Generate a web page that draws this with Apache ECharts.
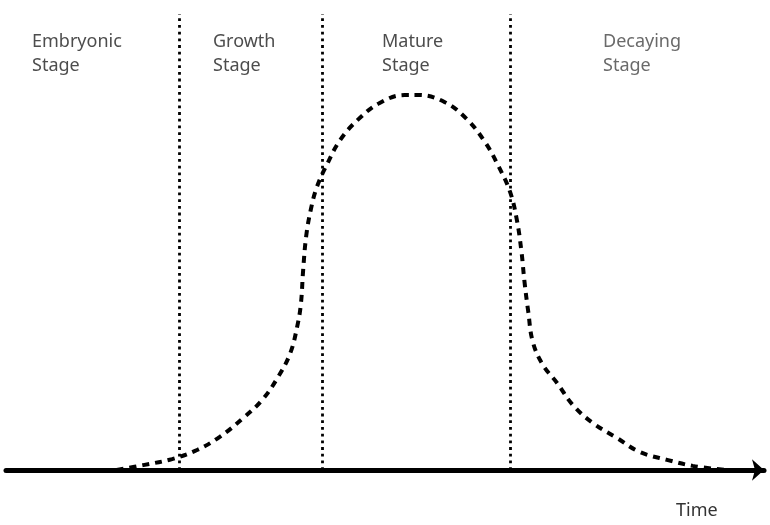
<!DOCTYPE html>
<html>
<head>
<meta charset="utf-8">
<script src="https://cdn.jsdelivr.net/npm/echarts@6/dist/echarts.min.js"></script>
<style>html,body{margin:0;padding:0;background:#fff}#c{width:770px;height:525px}</style>
</head>
<body>
<div id="c"></div>
<script>
// Product life-cycle curve: [time, level]
const timeValues = [14.6,18.1,21.9,25.2,28.2,31.3,33.8,35.9,37.5,38.4,38.9,39.2,39.6,40.2,41.0,42.3,44.1,46.4,49.3,52.6,54.4,57.9,60.8,63.2,64.9,66.5,67.4,68.0,68.4,68.9,69.5,70.8,72.7,74.8,77.4,80.6,83.6,87.2,90.6,94.9];
const levelValues = [0,1.3,2.9,5.3,8.8,13.8,18.6,24.7,31.0,37.9,44.0,53.0,62.0,69.0,75.0,80.9,87.6,92.9,97.4,99.5,99.5,97.6,93.1,87.0,80.9,73.8,66.3,58.0,50.0,42.0,34.0,28.0,23.1,17.2,12.5,8.5,4.8,2.7,1.1,0];
const stageBoundaries = [22.82, 41.69, 66.49];
const stageNames = ['Embryonic\nStage', 'Growth\nStage', 'Mature\nStage', 'Decaying\nStage'];
const axisName = 'Time';

const curve = timeValues.map((t, i) => [t, levelValues[i]]);
const labelLefts = [32, 213, 382, 603];
const labelColors = ['#4d4d4d', '#4d4d4d', '#4d4d4d', '#6a6a6a'];

const chart = echarts.init(document.getElementById('c'));
chart.setOption({
  animation: false,
  grid: { left: 6, right: 6, top: 14, bottom: 55 },
  xAxis: {
    type: 'value', min: 0, max: 100,
    axisLine: { show: true, onZero: false, symbol: ['none', 'arrow'], symbolSize: [16, 12],
      lineStyle: { color: '#000', width: 5 } },
    axisTick: { show: false }, axisLabel: { show: false }, splitLine: { show: false }
  },
  yAxis: {
    type: 'value', min: 0, max: 121, show: false, splitLine: { show: false }
  },
  graphic: stageNames.map((n, i) => ({
    type: 'text', left: labelLefts[i], top: 30,
    style: { text: n, font: '18px "Noto Sans"', fill: labelColors[i], lineHeight: 24 }
  })).concat([{
    type: 'text', left: 676, top: 499,
    style: { text: axisName, font: '18px "Noto Sans"', fill: '#333', lineHeight: 24 }
  }]),
  series: [{
    type: 'line',
    data: curve,
    showSymbol: false,
    smooth: 0.4,
    lineStyle: { color: '#000', width: 4, type: [7, 6] },
    z: 3,
    markLine: {
      silent: true, symbol: 'none', label: { show: false },
      lineStyle: { color: '#000', width: 2.8, type: [2.8, 3.9] },
      data: stageBoundaries.map(x => ({ xAxis: x }))
    }
  }]
});
</script>
</body>
</html>
